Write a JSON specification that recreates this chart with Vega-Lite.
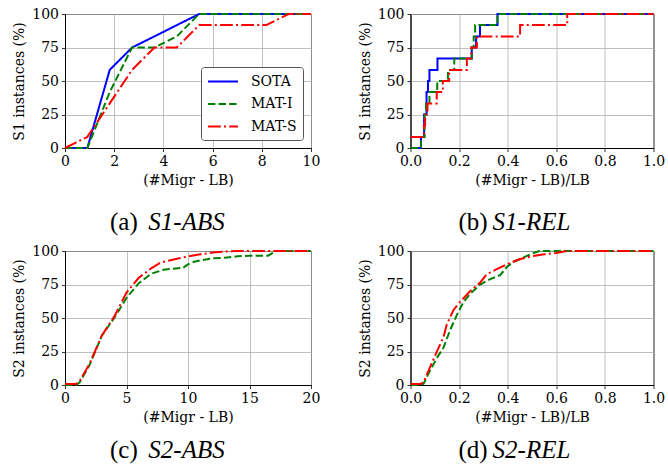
{
  "$schema": "https://vega.github.io/schema/vega-lite/v6.json",
  "padding": {"left": 12, "top": 6, "right": 5, "bottom": 5},
  "background": "white",
  "datasets": {
    "s1abs": [
      {"series": "SOTA", "x": 0, "y": 0}, {"series": "SOTA", "x": 0.909, "y": 0}, {"series": "SOTA", "x": 1.818, "y": 58.3}, {"series": "SOTA", "x": 2.727, "y": 75}, {"series": "SOTA", "x": 3.636, "y": 83.3}, {"series": "SOTA", "x": 4.545, "y": 91.7}, {"series": "SOTA", "x": 5.455, "y": 100}, {"series": "SOTA", "x": 6.364, "y": 100}, {"series": "SOTA", "x": 7.273, "y": 100}, {"series": "SOTA", "x": 8.182, "y": 100}, {"series": "SOTA", "x": 9.091, "y": 100}, {"series": "SOTA", "x": 10, "y": 100},
      {"series": "MAT-I", "x": 0, "y": 0}, {"series": "MAT-I", "x": 0.909, "y": 0}, {"series": "MAT-I", "x": 1.818, "y": 41.7}, {"series": "MAT-I", "x": 2.727, "y": 75}, {"series": "MAT-I", "x": 3.636, "y": 75}, {"series": "MAT-I", "x": 4.545, "y": 83.3}, {"series": "MAT-I", "x": 5.455, "y": 100}, {"series": "MAT-I", "x": 6.364, "y": 100}, {"series": "MAT-I", "x": 7.273, "y": 100}, {"series": "MAT-I", "x": 8.182, "y": 100}, {"series": "MAT-I", "x": 9.091, "y": 100}, {"series": "MAT-I", "x": 10, "y": 100},
      {"series": "MAT-S", "x": 0, "y": 0}, {"series": "MAT-S", "x": 0.909, "y": 8.3}, {"series": "MAT-S", "x": 1.818, "y": 33.3}, {"series": "MAT-S", "x": 2.727, "y": 58.3}, {"series": "MAT-S", "x": 3.636, "y": 75}, {"series": "MAT-S", "x": 4.545, "y": 75}, {"series": "MAT-S", "x": 5.455, "y": 91.7}, {"series": "MAT-S", "x": 6.364, "y": 91.7}, {"series": "MAT-S", "x": 7.273, "y": 91.7}, {"series": "MAT-S", "x": 8.182, "y": 91.7}, {"series": "MAT-S", "x": 9.091, "y": 100}, {"series": "MAT-S", "x": 10, "y": 100}
    ],
    "s1rel": [
      {"series": "SOTA", "x": 0, "y": 0}, {"series": "SOTA", "x": 0.043, "y": 8.3}, {"series": "SOTA", "x": 0.056, "y": 25}, {"series": "SOTA", "x": 0.066, "y": 41.7}, {"series": "SOTA", "x": 0.072, "y": 50}, {"series": "SOTA", "x": 0.078, "y": 58.3}, {"series": "SOTA", "x": 0.111, "y": 66.7}, {"series": "SOTA", "x": 0.252, "y": 75}, {"series": "SOTA", "x": 0.27, "y": 83.3}, {"series": "SOTA", "x": 0.286, "y": 91.7}, {"series": "SOTA", "x": 0.358, "y": 100}, {"series": "SOTA", "x": 1, "y": 100},
      {"series": "MAT-I", "x": 0, "y": 0}, {"series": "MAT-I", "x": 0.043, "y": 8.3}, {"series": "MAT-I", "x": 0.058, "y": 25}, {"series": "MAT-I", "x": 0.064, "y": 33.3}, {"series": "MAT-I", "x": 0.078, "y": 41.7}, {"series": "MAT-I", "x": 0.11, "y": 50}, {"series": "MAT-I", "x": 0.154, "y": 58.3}, {"series": "MAT-I", "x": 0.18, "y": 66.7}, {"series": "MAT-I", "x": 0.252, "y": 75}, {"series": "MAT-I", "x": 0.26, "y": 83.3}, {"series": "MAT-I", "x": 0.266, "y": 91.7}, {"series": "MAT-I", "x": 0.358, "y": 100}, {"series": "MAT-I", "x": 1, "y": 100},
      {"series": "MAT-S", "x": 0, "y": 8.3}, {"series": "MAT-S", "x": 0.055, "y": 16.7}, {"series": "MAT-S", "x": 0.06, "y": 25}, {"series": "MAT-S", "x": 0.07, "y": 33.3}, {"series": "MAT-S", "x": 0.108, "y": 41.7}, {"series": "MAT-S", "x": 0.133, "y": 50}, {"series": "MAT-S", "x": 0.159, "y": 58.3}, {"series": "MAT-S", "x": 0.232, "y": 66.7}, {"series": "MAT-S", "x": 0.25, "y": 75}, {"series": "MAT-S", "x": 0.273, "y": 83.3}, {"series": "MAT-S", "x": 0.451, "y": 91.7}, {"series": "MAT-S", "x": 0.645, "y": 100}, {"series": "MAT-S", "x": 1, "y": 100}
    ],
    "s2abs": [
      {"series": "MAT-I", "x": 0, "y": 0}, {"series": "MAT-I", "x": 0.9, "y": 0}, {"series": "MAT-I", "x": 1.2, "y": 2}, {"series": "MAT-I", "x": 2, "y": 15}, {"series": "MAT-I", "x": 3, "y": 37}, {"series": "MAT-I", "x": 4, "y": 50}, {"series": "MAT-I", "x": 5, "y": 65}, {"series": "MAT-I", "x": 6, "y": 76}, {"series": "MAT-I", "x": 7, "y": 83}, {"series": "MAT-I", "x": 8, "y": 86}, {"series": "MAT-I", "x": 9, "y": 87}, {"series": "MAT-I", "x": 9.6, "y": 87.5}, {"series": "MAT-I", "x": 10, "y": 90}, {"series": "MAT-I", "x": 10.5, "y": 92}, {"series": "MAT-I", "x": 11, "y": 93}, {"series": "MAT-I", "x": 12, "y": 94.5}, {"series": "MAT-I", "x": 13, "y": 95}, {"series": "MAT-I", "x": 14, "y": 96}, {"series": "MAT-I", "x": 15, "y": 96.5}, {"series": "MAT-I", "x": 16.5, "y": 96.5}, {"series": "MAT-I", "x": 17.2, "y": 100}, {"series": "MAT-I", "x": 20, "y": 100},
      {"series": "MAT-S", "x": 0, "y": 0.8}, {"series": "MAT-S", "x": 0.9, "y": 0.8}, {"series": "MAT-S", "x": 1.2, "y": 3}, {"series": "MAT-S", "x": 2, "y": 16}, {"series": "MAT-S", "x": 3, "y": 37}, {"series": "MAT-S", "x": 4, "y": 51}, {"series": "MAT-S", "x": 5, "y": 69}, {"series": "MAT-S", "x": 6, "y": 80}, {"series": "MAT-S", "x": 7, "y": 87}, {"series": "MAT-S", "x": 7.7, "y": 91}, {"series": "MAT-S", "x": 8, "y": 91.8}, {"series": "MAT-S", "x": 9, "y": 94}, {"series": "MAT-S", "x": 10, "y": 96}, {"series": "MAT-S", "x": 11, "y": 97.5}, {"series": "MAT-S", "x": 12, "y": 98.8}, {"series": "MAT-S", "x": 13, "y": 99.6}, {"series": "MAT-S", "x": 14, "y": 100}, {"series": "MAT-S", "x": 20, "y": 100}
    ],
    "s2rel": [
      {"series": "MAT-I", "x": 0, "y": 0}, {"series": "MAT-I", "x": 0.04, "y": 0}, {"series": "MAT-I", "x": 0.054, "y": 1}, {"series": "MAT-I", "x": 0.081, "y": 11}, {"series": "MAT-I", "x": 0.108, "y": 20}, {"series": "MAT-I", "x": 0.136, "y": 28}, {"series": "MAT-I", "x": 0.163, "y": 41}, {"series": "MAT-I", "x": 0.19, "y": 52}, {"series": "MAT-I", "x": 0.218, "y": 62}, {"series": "MAT-I", "x": 0.245, "y": 68}, {"series": "MAT-I", "x": 0.287, "y": 75}, {"series": "MAT-I", "x": 0.328, "y": 79}, {"series": "MAT-I", "x": 0.369, "y": 82}, {"series": "MAT-I", "x": 0.396, "y": 88}, {"series": "MAT-I", "x": 0.424, "y": 92}, {"series": "MAT-I", "x": 0.451, "y": 94}, {"series": "MAT-I", "x": 0.493, "y": 97.5}, {"series": "MAT-I", "x": 0.53, "y": 100}, {"series": "MAT-I", "x": 1, "y": 100},
      {"series": "MAT-S", "x": 0, "y": 0.8}, {"series": "MAT-S", "x": 0.04, "y": 0.8}, {"series": "MAT-S", "x": 0.054, "y": 2}, {"series": "MAT-S", "x": 0.081, "y": 13.6}, {"series": "MAT-S", "x": 0.108, "y": 24.7}, {"series": "MAT-S", "x": 0.136, "y": 36}, {"series": "MAT-S", "x": 0.149, "y": 45}, {"series": "MAT-S", "x": 0.177, "y": 56}, {"series": "MAT-S", "x": 0.204, "y": 62}, {"series": "MAT-S", "x": 0.245, "y": 70}, {"series": "MAT-S", "x": 0.287, "y": 76.5}, {"series": "MAT-S", "x": 0.314, "y": 82.7}, {"series": "MAT-S", "x": 0.355, "y": 86.4}, {"series": "MAT-S", "x": 0.396, "y": 90}, {"series": "MAT-S", "x": 0.451, "y": 94}, {"series": "MAT-S", "x": 0.506, "y": 96.3}, {"series": "MAT-S", "x": 0.55, "y": 97.5}, {"series": "MAT-S", "x": 0.6, "y": 98.5}, {"series": "MAT-S", "x": 0.645, "y": 100}, {"series": "MAT-S", "x": 1, "y": 100}
    ]
  },
  "columns": 2,
  "spacing": {"column": 36.5, "row": 8},
  "resolve": {"scale": {"x": "independent", "y": "independent", "color": "independent", "strokeDash": "independent"}},
  "concat": [
    {
      "title": {"text": "(a)", "orient": "bottom", "offset": 0, "dy": -25, "dx": -42.5},
      "resolve": {"scale": {"color": "independent", "strokeDash": "independent"}},
      "vconcat": [
        {
          "width": 246, "height": 134,
          "title": {"text": "S1-ABS", "orient": "bottom", "fontStyle": "italic", "offset": 22, "dx": -1.5},
          "data": {"name": "s1abs"},
          "mark": {"type": "line", "strokeWidth": 2},
          "encoding": {
            "x": {"field": "x", "type": "quantitative", "scale": {"domain": [0, 10], "nice": false}, "axis": {"values": [0, 2, 4, 6, 8, 10], "title": "(#Migr - LB)"}},
            "y": {"field": "y", "type": "quantitative", "scale": {"domain": [0, 100], "nice": false}, "axis": {"values": [0, 25, 50, 75, 100], "title": "S1 instances (%)"}},
            "color": {"field": "series", "type": "nominal", "scale": {"domain": ["SOTA", "MAT-I", "MAT-S"], "range": ["#0000ff", "#008000", "#ff0000"]}, "legend": {"orient": "bottom-right", "offset": 8, "title": null}},
            "strokeDash": {"field": "series", "type": "nominal", "scale": {"domain": ["SOTA", "MAT-I", "MAT-S"], "range": [[1, 0], [7.4, 3.2], [12.8, 3.2, 2, 3.2]]}, "legend": {"orient": "bottom-right", "offset": 8, "title": null}}
          }
        }
      ]
    },
    {
      "title": {"text": "(b)", "orient": "bottom", "offset": 0, "dy": -25, "dx": -38.5},
      "resolve": {"scale": {"color": "independent", "strokeDash": "independent"}},
      "vconcat": [
        {
          "width": 243, "height": 134,
          "title": {"text": "S1-REL", "orient": "bottom", "fontStyle": "italic", "offset": 22, "dx": -0.5},
          "data": {"name": "s1rel"},
          "mark": {"type": "line", "strokeWidth": 2, "interpolate": "step-after"},
          "encoding": {
            "x": {"field": "x", "type": "quantitative", "scale": {"domain": [0, 1], "nice": false}, "axis": {"values": [0, 0.2, 0.4, 0.6, 0.8, 1], "format": ".1f", "title": "(#Migr - LB)/LB"}},
            "y": {"field": "y", "type": "quantitative", "scale": {"domain": [0, 100], "nice": false}, "axis": {"values": [0, 25, 50, 75, 100], "title": "S1 instances (%)"}},
            "color": {"field": "series", "type": "nominal", "scale": {"domain": ["SOTA", "MAT-I", "MAT-S"], "range": ["#0000ff", "#008000", "#ff0000"]}, "legend": null},
            "strokeDash": {"field": "series", "type": "nominal", "scale": {"domain": ["SOTA", "MAT-I", "MAT-S"], "range": [[1, 0], [7.4, 3.2], [12.8, 3.2, 2, 3.2]]}, "legend": null}
          }
        }
      ]
    },
    {
      "title": {"text": "(c)", "orient": "bottom", "offset": 0, "dy": -25, "dx": -42.5},
      "resolve": {"scale": {"color": "independent", "strokeDash": "independent"}},
      "vconcat": [
        {
          "width": 246, "height": 134,
          "title": {"text": "S2-ABS", "orient": "bottom", "fontStyle": "italic", "offset": 13, "dx": -1.5},
          "data": {"name": "s2abs"},
          "mark": {"type": "line", "strokeWidth": 2},
          "encoding": {
            "x": {"field": "x", "type": "quantitative", "scale": {"domain": [0, 20], "nice": false}, "axis": {"values": [0, 5, 10, 15, 20], "title": "(#Migr - LB)"}},
            "y": {"field": "y", "type": "quantitative", "scale": {"domain": [0, 100], "nice": false}, "axis": {"values": [0, 25, 50, 75, 100], "title": "S2 instances (%)"}},
            "color": {"field": "series", "type": "nominal", "scale": {"domain": ["SOTA", "MAT-I", "MAT-S"], "range": ["#0000ff", "#008000", "#ff0000"]}, "legend": null},
            "strokeDash": {"field": "series", "type": "nominal", "scale": {"domain": ["SOTA", "MAT-I", "MAT-S"], "range": [[1, 0], [7.4, 3.2], [12.8, 3.2, 2, 3.2]]}, "legend": null}
          }
        }
      ]
    },
    {
      "title": {"text": "(d)", "orient": "bottom", "offset": 0, "dy": -25, "dx": -38.5},
      "resolve": {"scale": {"color": "independent", "strokeDash": "independent"}},
      "vconcat": [
        {
          "width": 243, "height": 134,
          "title": {"text": "S2-REL", "orient": "bottom", "fontStyle": "italic", "offset": 13, "dx": -0.5},
          "data": {"name": "s2rel"},
          "mark": {"type": "line", "strokeWidth": 2},
          "encoding": {
            "x": {"field": "x", "type": "quantitative", "scale": {"domain": [0, 1], "nice": false}, "axis": {"values": [0, 0.2, 0.4, 0.6, 0.8, 1], "format": ".1f", "title": "(#Migr - LB)/LB"}},
            "y": {"field": "y", "type": "quantitative", "scale": {"domain": [0, 100], "nice": false}, "axis": {"values": [0, 25, 50, 75, 100], "title": "S2 instances (%)"}},
            "color": {"field": "series", "type": "nominal", "scale": {"domain": ["SOTA", "MAT-I", "MAT-S"], "range": ["#0000ff", "#008000", "#ff0000"]}, "legend": null},
            "strokeDash": {"field": "series", "type": "nominal", "scale": {"domain": ["SOTA", "MAT-I", "MAT-S"], "range": [[1, 0], [7.4, 3.2], [12.8, 3.2, 2, 3.2]]}, "legend": null}
          }
        }
      ]
    }
  ],
  "config": {
    "view": {"stroke": "black", "strokeWidth": 1},
    "axis": {
      "labelFont": "DejaVu Serif", "labelFontSize": 14, "labelColor": "black", "labelPadding": 3, "labelFlush": false, "labelOverlap": false,
      "titleFont": "DejaVu Serif", "titleFontSize": 14, "titleFontWeight": "normal", "titleColor": "black", "titlePadding": 5,
      "domainColor": "black", "domainWidth": 1, "tickColor": "black", "tickSize": 3.5, "tickWidth": 0.8,
      "gridColor": "#b0b0b0", "gridWidth": 0.8, "gridOpacity": 1
    },
    "legend": {
      "symbolType": "M-2,0L2,0", "symbolSize": 225, "symbolStrokeWidth": 2, "symbolOffset": 7.5,
      "labelFont": "DejaVu Serif", "labelFontSize": 14, "labelColor": "black", "labelOffset": 19.5,
      "strokeColor": "#555555", "cornerRadius": 3, "fillColor": "white", "padding": 6, "rowPadding": 6.5
    },
    "title": {"font": "Liberation Serif", "fontSize": 25, "fontWeight": "normal", "color": "black", "anchor": "middle"}
  }
}
